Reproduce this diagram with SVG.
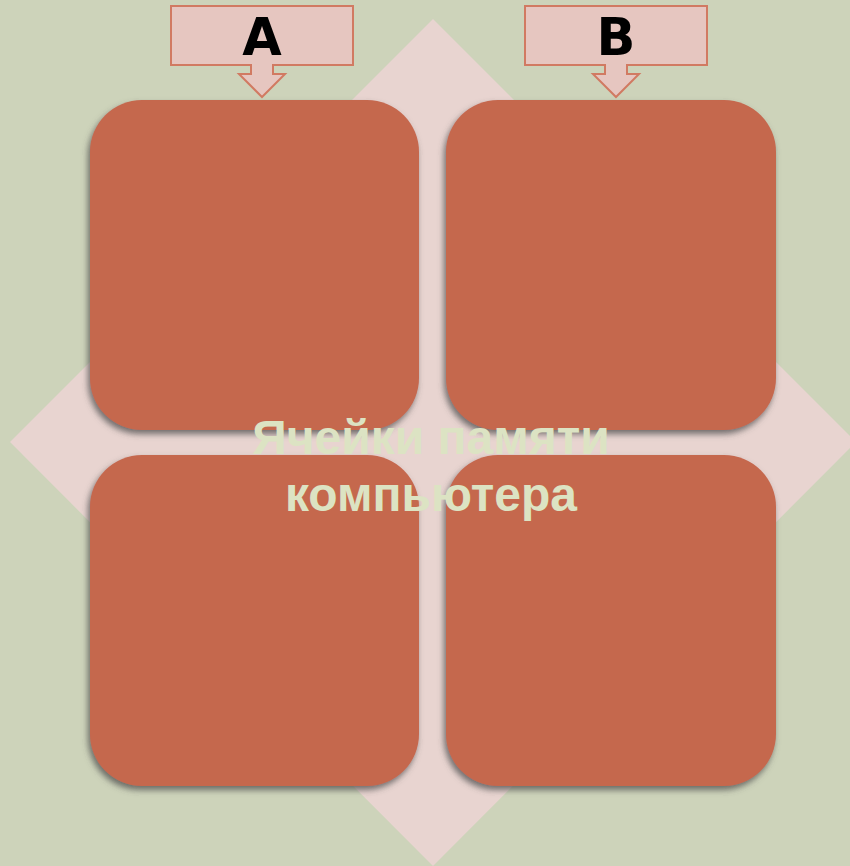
<svg xmlns="http://www.w3.org/2000/svg" width="850" height="866" viewBox="0 0 850 866">
<defs>
<filter id="sh" x="-10%" y="-10%" width="120%" height="125%">
<feDropShadow dx="-2" dy="4" stdDeviation="3" flood-color="#4a4a4a" flood-opacity="0.75"/>
</filter>
<style>
.cell{fill:#C5674E;filter:url(#sh)}
.call{fill:#E6C6C0;stroke:#D17A62;stroke-width:2}
.lbl{font-family:"DejaVu Sans",Verdana,sans-serif;font-weight:bold;font-size:51px;fill:#000;text-anchor:middle}
.ttl{font-family:"Liberation Sans",Arial,sans-serif;font-weight:bold;font-size:48px;fill:#DCE3C3;text-anchor:middle}
</style>
</defs>
<rect width="850" height="866" fill="#CDD3BA"/>
<polygon id="diamond" points="433,19 856,442 433,866 10,442" fill="#E8D4D0"/>
<g id="cell1"><rect class="cell" x="90" y="100" width="329" height="330" rx="52"/></g>
<g id="cell2"><rect class="cell" x="446" y="100" width="330" height="330" rx="52"/></g>
<g id="cell3"><rect class="cell" x="90" y="455" width="329" height="331" rx="52"/></g>
<g id="cell4"><rect class="cell" x="446" y="455" width="330" height="331" rx="52"/></g>
<g id="calloutA">
<path class="call" d="M171,6 H353 V65 H273 V74 H285 L262,97 L239,74 H251 V65 H171 Z"/>
<text class="lbl" x="262" y="55">A</text>
</g>
<g id="calloutB">
<path class="call" d="M525,6 H707 V65 H627 V74 H639 L616,97 L593,74 H605 V65 H525 Z"/>
<text class="lbl" x="616" y="55">B</text>
</g>
<g id="title">
<text class="ttl" x="431" y="454">Ячейки памяти</text>
<text class="ttl" x="431" y="511">компьютера</text>
</g>
</svg>
